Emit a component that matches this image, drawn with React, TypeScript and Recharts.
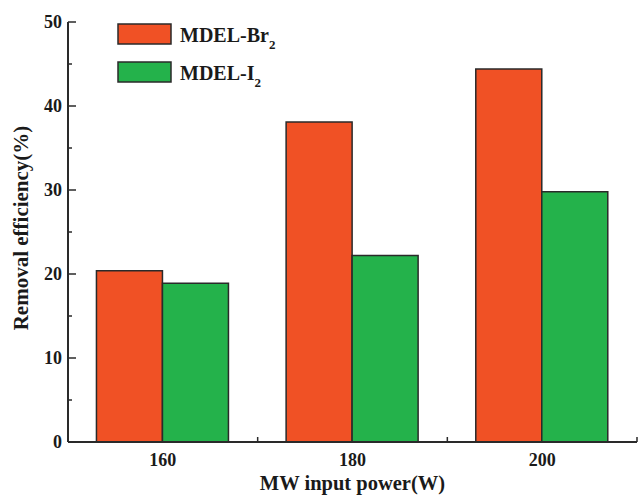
import React from 'react';
import { BarChart, Bar, XAxis, YAxis, Legend } from 'recharts';

const categories = ['160', '180', '200'];
const brValues = [20.4, 38.1, 44.4];
const iValues = [18.9, 22.2, 29.8];
const yTicks = [0, 5, 10, 15, 20, 25, 30, 35, 40, 45, 50];
const seriesNames = ['MDEL-Br', 'MDEL-I'];
const seriesColors = ['#F05125', '#24B24B'];
const xTitle = 'MW input power(W)';
const yTitle = 'Removal efficiency(%)';

const data = categories.map((c, i) => ({ power: c, br: brValues[i], i2: iValues[i] }));

const FONT = '"Liberation Serif", "Times New Roman", serif';
const AXIS = '#2a2a2a';
const TEXT = '#1a1a1a';

function YTick(props: any) {
  const { x, y, payload } = props;
  const major = payload.value % 10 === 0;
  return (
    <g>
      <line x1={x} x2={x + (major ? 8 : 4)} y1={y} y2={y} stroke={AXIS} strokeWidth={1.5} />
      {major && (
        <text x={x - 6} y={y + 6} textAnchor="end" fontFamily={FONT} fontWeight="bold" fontSize={18} fill={TEXT}>
          {payload.value}
        </text>
      )}
    </g>
  );
}

function XTick(props: any) {
  const { x, y, payload } = props;
  const half = payload && typeof payload.offset === 'number' ? payload.offset : 0;
  return (
    <g>
      {half > 0 && (
        <line x1={x + half} x2={x + half} y1={y} y2={y - 5} stroke={AXIS} strokeWidth={1.5} />
      )}
      <text x={x} y={y + 24} textAnchor="middle" fontFamily={FONT} fontWeight="bold" fontSize={18} fill={TEXT}>
        {payload.value}
      </text>
    </g>
  );
}

function XTitle(props: any) {
  const vb = props.viewBox || props;
  const cx = vb.x + vb.width / 2;
  return (
    <text x={cx} y={vb.y + 48} textAnchor="middle" fontFamily={FONT} fontWeight="bold" fontSize={20.5} fill={TEXT}>
      {xTitle}
    </text>
  );
}

function YTitle(props: any) {
  const vb = props.viewBox || props;
  const bx = vb.x + 28;
  const cy = vb.y + vb.height / 2 - 4;
  return (
    <text x={bx} y={cy} transform={`rotate(-90, ${bx}, ${cy})`} textAnchor="middle" fontFamily={FONT} fontWeight="bold" fontSize={21} fill={TEXT}>
      {yTitle}
    </text>
  );
}

function LegendBox() {
  return (
    <svg width={200} height={70} style={{ display: 'block', overflow: 'visible' }}>
      {seriesNames.map((n, i) => (
        <g key={n} transform={`translate(0, ${i * 38})`}>
          <rect x={1} y={1} width={53} height={20} fill={seriesColors[i]} stroke={AXIS} strokeWidth={1.5} />
          <text x={63} y={19} fontFamily={FONT} fontWeight="bold" fontSize={20} fill={TEXT}>
            {n}
            <tspan fontSize={13} dy={7}>2</tspan>
          </text>
        </g>
      ))}
    </svg>
  );
}

export default function App() {
  return (
    <div style={{ position: 'absolute', left: 0, top: 0, width: 638, height: 496, background: '#fff' }}>
      <BarChart
        width={638}
        height={496}
        data={data}
        margin={{ top: 22, right: 1, bottom: 0, left: 0 }}
        barCategoryGap="15%"
        barGap={0}
      >
        <XAxis
          dataKey="power"
          height={54}
          axisLine={{ stroke: AXIS, strokeWidth: 2 }}
          tickLine={false}
          tickSize={0}
          tickMargin={0}
          tick={<XTick />}
          interval={0}
          label={<XTitle />}
        />
        <YAxis
          width={68}
          domain={[0, 50]}
          ticks={yTicks}
          interval={0}
          axisLine={{ stroke: AXIS, strokeWidth: 2 }}
          tickLine={false}
          tickSize={0}
          tickMargin={0}
          tick={<YTick />}
          label={<YTitle />}
        />
        <Legend
          layout="vertical"
          align="center"
          verticalAlign="middle"
          wrapperStyle={{ position: 'absolute', left: 117, top: 23, width: 200, height: 70 }}
          content={() => <LegendBox />}
        />
        <Bar dataKey="br" fill={seriesColors[0]} stroke={AXIS} strokeWidth={1.5} isAnimationActive={false} />
        <Bar dataKey="i2" fill={seriesColors[1]} stroke={AXIS} strokeWidth={1.5} isAnimationActive={false} />
      </BarChart>
    </div>
  );
}
